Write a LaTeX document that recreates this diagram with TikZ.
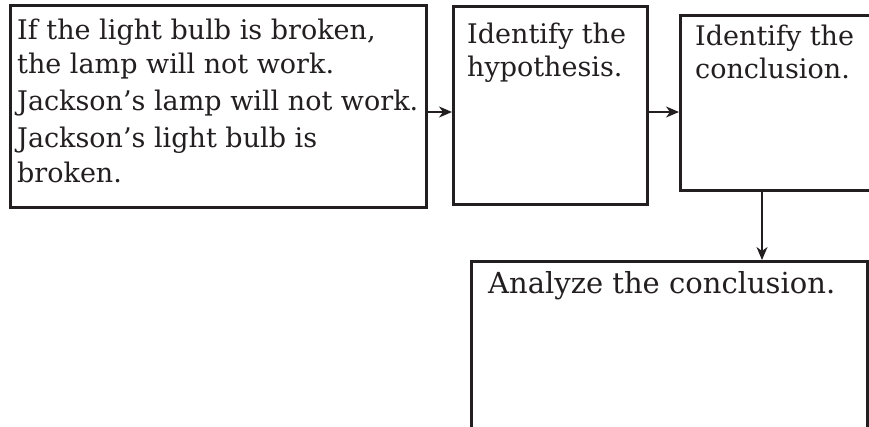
\documentclass[tikz,border=0pt]{standalone}
\usepackage{fontspec}
\setmainfont{DejaVu Serif}
\usetikzlibrary{arrows.meta}
\definecolor{ink}{HTML}{231F20}
\begin{document}
\begin{tikzpicture}[x=1pt,y=1pt,
  box/.style={draw=ink, line width=2.8pt, rectangle, inner sep=0pt},
  txt/.style={anchor=base west, inner sep=0pt, text=ink, font=\fontsize{27}{34}\selectfont},
  bigtxt/.style={txt, font=\fontsize{29}{36}\selectfont},
  arr/.style={draw=ink, line width=1.3pt, -{Stealth[length=13pt,width=11pt,inset=4pt]}}]
\clip (0,0) rectangle (869,-426);
\fill[white] (0,0) rectangle (869,-426);
% boxes
\node[box, anchor=north west, minimum width=416pt, minimum height=202pt] (b1) at (9,-4) {};
\node[box, anchor=north west, minimum width=194pt, minimum height=198pt] (b2) at (452,-5) {};
\node[box, anchor=north west, minimum width=220pt, minimum height=175pt] (b3) at (679,-14) {};
\node[box, anchor=north west, minimum width=396pt, minimum height=190pt] (b4) at (470,-260) {};
% texts
\node[txt] (t1) at (17,-39) {If the light bulb is broken,};
\node[txt] (t2) at (17,-73) {the lamp will not work.};
\node[txt] (t3) at (17,-110) {Jackson's lamp will not work.};
\node[txt] (t4) at (17,-147) {Jackson's light bulb is};
\node[txt] (t5) at (17,-182) {broken.};
\node[txt] (h1) at (467,-43) {Identify the};
\node[txt] (h2) at (467,-76) {hypothesis.};
\node[txt] (c1) at (695,-45) {Identify the};
\node[txt] (c2) at (695,-78) {conclusion.};
\node[bigtxt] (a1) at (488,-293) {Analyze the conclusion.};
% connectors
\draw[arr] (b1.east |- 0,-112) -- (b2.west |- 0,-112);
\draw[arr] (b2.east |- 0,-112) -- (b3.west |- 0,-112);
\draw[arr] (b3.south -| 762,0) -- (b4.north -| 762,0);
\end{tikzpicture}
\end{document}
